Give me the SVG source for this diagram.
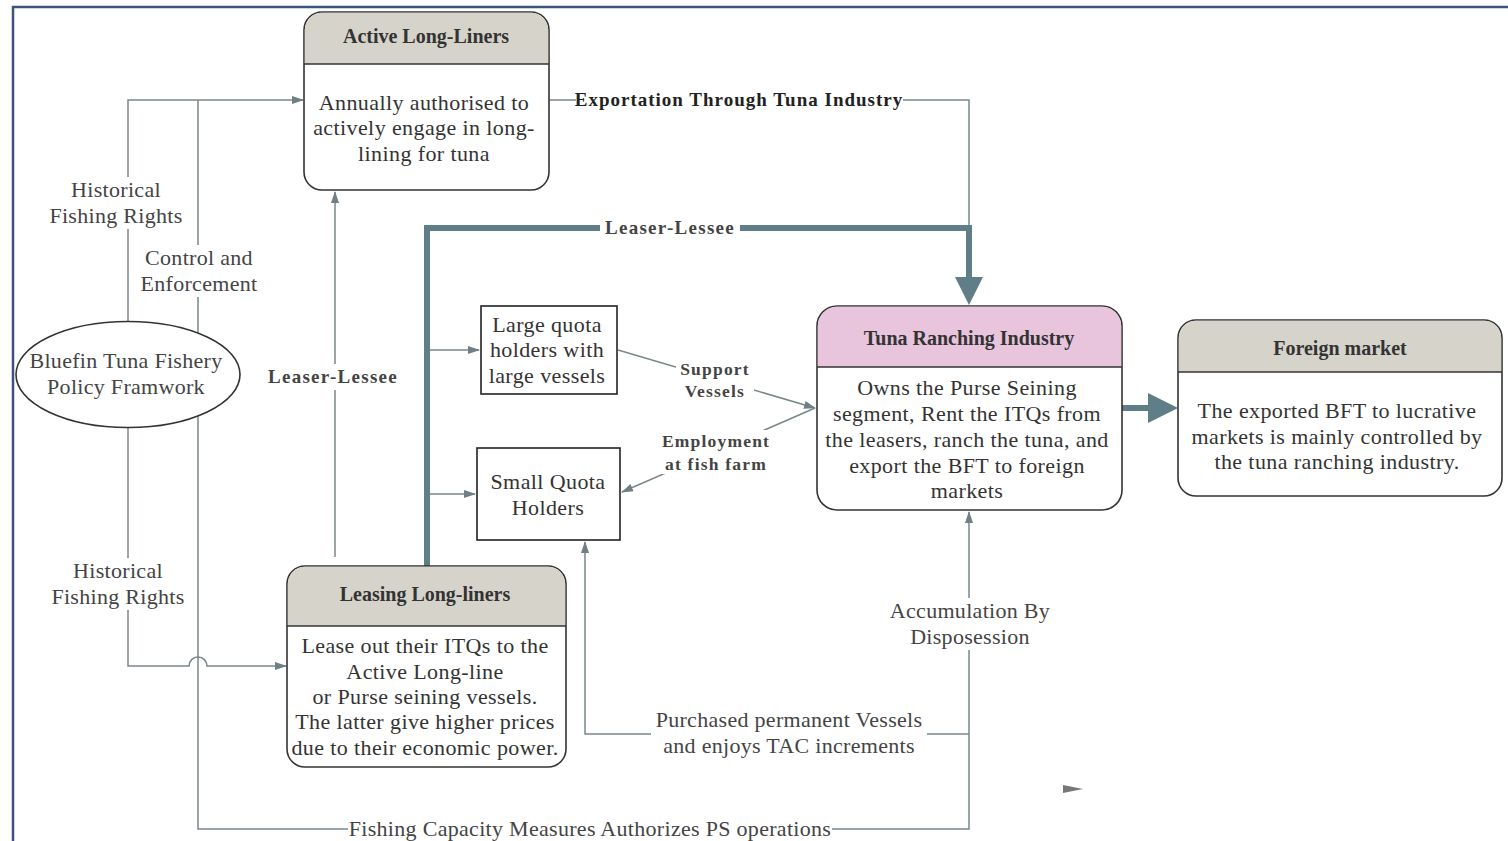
<svg xmlns="http://www.w3.org/2000/svg" width="1508" height="841" viewBox="0 0 1508 841">
<style>
.box{fill:#fff;stroke:#333;stroke-width:1.6}
.hdr{fill:#d6d3cb}
.pink{fill:#e8c5dc}
.t{font-family:"Liberation Serif",serif;font-size:22px;letter-spacing:0.4px;fill:#333;text-anchor:middle}
.h{font-family:"Liberation Serif",serif;font-size:20px;font-weight:bold;fill:#333;text-anchor:middle}
.lb{font-family:"Liberation Serif",serif;font-size:22px;letter-spacing:0.3px;fill:#444;text-anchor:middle}
.lbb{font-family:"Liberation Serif",serif;font-size:19px;font-weight:bold;fill:#444;text-anchor:middle;letter-spacing:1.3px}
.lbs{font-family:"Liberation Serif",serif;font-size:17.5px;font-weight:bold;fill:#444;text-anchor:middle;letter-spacing:1.2px}
.c{fill:none;stroke:#7b8689;stroke-width:1.5}
.thick{fill:none;stroke:#5f7e87;stroke-width:6}
.bg{fill:#fff}
</style>
<defs>
<marker id="a" markerWidth="12" markerHeight="10" refX="11" refY="5" orient="auto" markerUnits="userSpaceOnUse">
<path d="M0,1 L12,5 L0,9 Z" fill="#6f7f84"/>
</marker>
</defs>
<rect x="0" y="0" width="1508" height="841" fill="#fff"/>
<path d="M13,841 V7 H1508" fill="none" stroke="#3a5578" stroke-width="2.5"/>

<g id="connectors">
<path class="c" d="M128,322 V100 H303" marker-end="url(#a)"/>
<path class="c" d="M198,100 V829 H969 V512" marker-end="url(#a)"/>
<path class="c" d="M128,428 V666 H189 A9,9 0 0 1 207,666 H286" marker-end="url(#a)"/>
<path class="c" d="M335,557 V192" marker-end="url(#a)"/>
<path class="c" d="M549,100 H969 V228"/>
<path class="thick" d="M427,566 V228 H969 V278"/>
<path d="M955,277 L983,277 L969,305 Z" fill="#5f7e87"/>
<path class="c" d="M430,350 H479" marker-end="url(#a)"/>
<path class="c" d="M430,494 H475" marker-end="url(#a)"/>
<path class="c" d="M618,350 L815,408" marker-end="url(#a)"/>
<path class="c" d="M815,408 L622,492" marker-end="url(#a)"/>
<path class="thick" d="M1122,408 H1150"/>
<path d="M1148,393 L1178,408 L1148,423 Z" fill="#5f7e87"/>
<path class="c" d="M969,734 H585 V542" marker-end="url(#a)"/>
<path d="M1063,785 L1083,789 L1063,793 Z" fill="#777"/>
</g>

<g id="labels">
<rect class="bg" x="48" y="177" width="136" height="52"/>
<text class="lb" x="116" y="197">Historical</text>
<text class="lb" x="116" y="223">Fishing Rights</text>
<rect class="bg" x="138" y="245" width="122" height="52"/>
<text class="lb" x="199" y="265">Control and</text>
<text class="lb" x="199" y="291">Enforcement</text>
<rect class="bg" x="263" y="364" width="140" height="26"/>
<text class="lbb" x="333" y="383">Leaser-Lessee</text>
<rect class="bg" x="50" y="558" width="136" height="52"/>
<text class="lb" x="118" y="578">Historical</text>
<text class="lb" x="118" y="604">Fishing Rights</text>
<rect class="bg" x="576" y="88" width="327" height="24"/>
<text class="lbb" x="739" y="106" style="fill:#222;letter-spacing:1px">Exportation Through Tuna Industry</text>
<rect class="bg" x="600" y="216" width="140" height="24"/>
<text class="lbb" x="670" y="234">Leaser-Lessee</text>
<rect class="bg" x="676" y="358" width="78" height="44"/>
<text class="lbs" x="715" y="375">Support</text>
<text class="lbs" x="715" y="397">Vessels</text>
<rect class="bg" x="656" y="430" width="120" height="44"/>
<text class="lbs" x="716" y="447">Employment</text>
<text class="lbs" x="716" y="470">at fish farm</text>
<rect class="bg" x="886" y="598" width="168" height="52"/>
<text class="lb" x="970" y="618">Accumulation By</text>
<text class="lb" x="970" y="644">Disposession</text>
<rect class="bg" x="651" y="708" width="276" height="52"/>
<text class="lb" x="789" y="727">Purchased permanent Vessels</text>
<text class="lb" x="789" y="753">and enjoys TAC increments</text>
<rect class="bg" x="348" y="817" width="484" height="24"/>
<text class="lb" x="590" y="836">Fishing Capacity Measures Authorizes PS operations</text>
</g>

<g id="policy">
<ellipse cx="128" cy="374.5" rx="112" ry="53" fill="#fff" stroke="#333" stroke-width="1.6"/>
<text class="lb" x="126" y="368">Bluefin Tuna Fishery</text>
<text class="lb" x="126" y="394">Policy Framwork</text>
</g>

<g id="active">
<rect class="box" x="304" y="12" width="245" height="178" rx="18"/>
<path class="hdr" d="M322,12.8 H531 A17.2,17.2 0 0 1 548.2,30 V64 H304.8 V30 A17.2,17.2 0 0 1 322,12.8 Z"/>
<line x1="304" y1="64" x2="549" y2="64" stroke="#333" stroke-width="1.6"/>
<text class="h" x="426" y="43">Active Long-Liners</text>
<text class="t" x="424" y="110">Annually authorised to</text>
<text class="t" x="424" y="135">actively engage in long-</text>
<text class="t" x="424" y="161">lining for tuna</text>
</g>

<g id="large">
<rect x="481" y="306" width="136" height="88" fill="#fff" stroke="#222" stroke-width="1.6"/>
<text class="t" x="547" y="332">Large quota</text>
<text class="t" x="547" y="357">holders with</text>
<text class="t" x="547" y="383">large vessels</text>
</g>

<g id="small">
<rect x="477" y="448" width="143" height="92" fill="#fff" stroke="#222" stroke-width="1.6"/>
<text class="t" x="548" y="489">Small Quota</text>
<text class="t" x="548" y="515">Holders</text>
</g>

<g id="ranching">
<rect class="box" x="817" y="306" width="305" height="204" rx="20"/>
<path class="pink" d="M837,306.8 H1102 A19.2,19.2 0 0 1 1121.2,326 V367 H817.8 V326 A19.2,19.2 0 0 1 837,306.8 Z"/>
<line x1="817" y1="367" x2="1122" y2="367" stroke="#333" stroke-width="1.6"/>
<text class="h" x="969" y="345">Tuna Ranching Industry</text>
<text class="t" x="967" y="395">Owns the Purse Seining</text>
<text class="t" x="967" y="421">segment, Rent the ITQs from</text>
<text class="t" x="967" y="447">the leasers, ranch the tuna, and</text>
<text class="t" x="967" y="473">export the BFT to foreign</text>
<text class="t" x="967" y="498">markets</text>
</g>

<g id="foreign">
<rect class="box" x="1178" y="320" width="324" height="176" rx="18"/>
<path class="hdr" d="M1196,320.8 H1484 A17.2,17.2 0 0 1 1501.2,338 V372 H1178.8 V338 A17.2,17.2 0 0 1 1196,320.8 Z"/>
<line x1="1178" y1="372" x2="1502" y2="372" stroke="#333" stroke-width="1.6"/>
<text class="h" x="1340" y="355">Foreign market</text>
<text class="t" x="1337" y="418">The exported BFT to lucrative</text>
<text class="t" x="1337" y="444">markets is mainly controlled by</text>
<text class="t" x="1337" y="469">the tuna ranching industry.</text>
</g>

<g id="leasing">
<rect class="box" x="287" y="566" width="279" height="201" rx="18"/>
<path class="hdr" d="M305,566.8 H548 A17.2,17.2 0 0 1 565.2,584 V626 H287.8 V584 A17.2,17.2 0 0 1 305,566.8 Z"/>
<line x1="287" y1="626" x2="566" y2="626" stroke="#333" stroke-width="1.6"/>
<text class="h" x="425" y="601">Leasing Long-liners</text>
<text class="t" x="425" y="653">Lease out their ITQs to the</text>
<text class="t" x="425" y="679">Active Long-line</text>
<text class="t" x="425" y="704">or  Purse seining vessels.</text>
<text class="t" x="425" y="729">The latter give higher prices</text>
<text class="t" x="425" y="755">due to their economic power.</text>
</g>
</svg>
